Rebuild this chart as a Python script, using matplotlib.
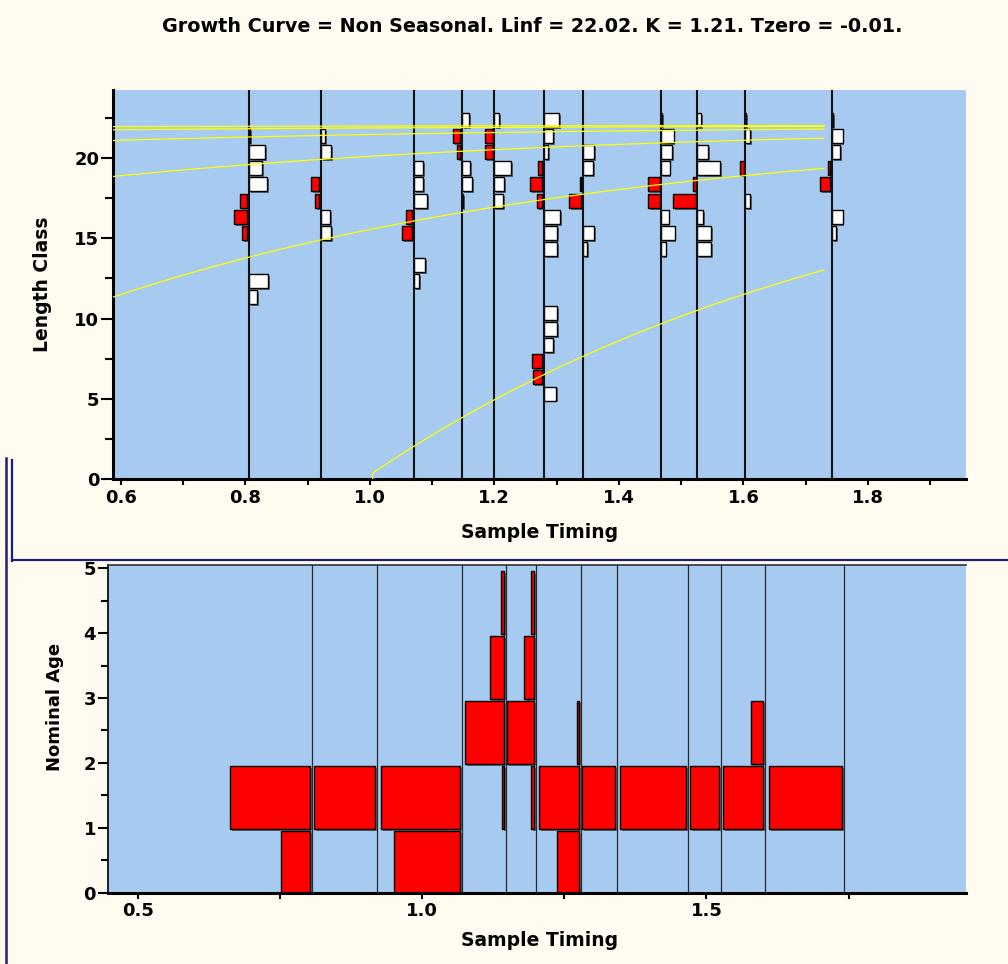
import numpy as np
import matplotlib.pyplot as plt
import matplotlib.patheffects as pe
from matplotlib.lines import Line2D

plt.rcParams.update({"font.family": ["DejaVu Sans"]})
plt.rcParams.update({"font.weight": "bold", "font.size": 13})

# growth parameters (from the title)
LINF = 22.02
K = 1.21
TZERO = -0.01

sample_times = [0.806, 0.921, 1.071, 1.148, 1.200, 1.280, 1.342, 1.468, 1.526, 1.603, 1.742]

length_classes = list(range(5, 23))
# restructured scores, rows = samples, cols = length classes 5..22 (+ white / - red)
scores = [
    [0, 0, 0, 0, 0, 0, 7.7, 19, 0, 0, -5.3, -13.3, -7.3, 18, 13.3, 16, 1.5, 0],
    [0, 0, 0, 0, 0, 0, 0, 0, 0, 0, 10.7, 9.3, -4, -8.3, 0, 10.7, 4.7, 0],
    [0, 0, 0, 0, 0, 0, 0, 4.7, 11.3, 0, -10.3, -6.7, 12.7, 9.3, 8.7, 0, 0, 0],
    [0, 0, 0, 0, 0, 0, 0, 0, 0, 0, 0, 0, 1.3, 9.7, 7.7, -3.3, -7, 7],
    [0, 0, 0, 0, 0, 0, 0, 0, 0, 0, 0, 0, 8.3, 10, 16.7, -8, -7.7, 5],
    [11.7, -9.3, -10.3, 9.3, 12.7, 12.7, 0, 0, 0, 12.7, 13.3, 16, -5.3, -12.7, -4.7, 3.7, 8.7, 14.7],
    [0, 0, 0, 0, 0, 0, 0, 0, 0, 4.7, 11, 0, -12.3, -1, 10.3, 11, 0, 0],
    [0, 0, 0, 0, 0, 0, 0, 0, 0, 4.3, 13.3, 7.3, -11.3, -12, 8.3, 10.7, 12.3, 1],
    [0, 0, 0, 0, 0, 0, 0, 0, 0, 14, 13.7, 6, -22.7, -3, 22.7, 11, 0, 3.7],
    [0, 0, 0, 0, 0, 0, 0, 0, 0, 0, 0, 0, 4.7, 0, -3.3, 0, 4.7, 1],
    [0, 0, 0, 0, 0, 0, 0, 0, 0, 0, 4, 10.7, 0, -10, -2.3, 8, 10.7, 1],
]

nominal_ages = [0, 1, 2, 3, 4]
# age frequencies per sample, cols = ages 0..4
age_freq = [
    [28.3, 79.4, 0, 0, 0],
    [0, 60.7, 0, 0, 0],
    [66.2, 79.4, 0, 0, 0],
    [0, 2, 39.3, 14, 3],
    [0, 2.7, 26.7, 9.7, 2.4],
    [22, 40.7, 2.4, 0, 0],
    [0, 32.3, 0, 0, 0],
    [0, 66, 0, 0, 0],
    [0, 29.3, 0, 0, 0],
    [0, 40, 12, 0, 0],
    [0, 73, 0, 0, 0],
]
cohorts = [0, 1, 2, 3, 4, 5]

TOP_SCALE = 1 / 622.7
BOT_SCALE = 1 / 568.9
BG = "#A6CAF0"
CREAM = "#FFFBF0"
NAVY = "#202070"
W, H = 1008, 964

shadow = [pe.SimplePatchShadow(offset=(1.4, -1.4), shadow_rgbFace="#404040", alpha=0.7), pe.Normal()]


def fbox(l, t, r, b):
    return [l / W, 1 - b / H, (r - l) / W, (b - t) / H]


fig = plt.figure(figsize=(W / 100, H / 100), dpi=100, facecolor=CREAM)

# ---------------- top panel ----------------
ax = fig.add_axes(fbox(112.5, 89.7, 966, 479.3))
ax.set_facecolor(BG)
ax.set_xlim(0.5868, 1.9575)
ax.set_ylim(0, 24.23)

gap = 0.0027
for t, row in zip(sample_times, scores):
    for cls, s in zip(length_classes, row):
        if s == 0:
            continue
        w = abs(s) * TOP_SCALE
        if s > 0:
            b = ax.barh(cls - 0.1, w, left=t, height=0.87, align="edge",
                        color="white", edgecolor="black", lw=1.0, zorder=2)
        else:
            b = ax.barh(cls - 0.1, w, left=t - gap - w, height=0.87, align="edge",
                        color="#FF0000", edgecolor="black", lw=1.0, zorder=2)
        for p in b:
            p.set_path_effects(shadow)
    ax.axvline(t, color="#111111", lw=1.5, zorder=3)

xend = 1.7295
for k in cohorts:
    x0 = 1.0045 if k == 0 else 0.5868
    xs = np.linspace(x0, xend, 120)
    ys = LINF * (1 - np.exp(-K * (xs - 1 + k - TZERO)))
    if k == 0:
        xs = np.r_[x0, xs]
        ys = np.r_[0, ys]
    ax.plot(xs, ys, color="#FFFF00", lw=0.9, zorder=4)

for side in ["top", "right"]:
    ax.spines[side].set_visible(False)
for side in ["left", "bottom"]:
    ax.spines[side].set_linewidth(2.2)
ax.set_xticks([0.6, 0.8, 1.0, 1.2, 1.4, 1.6, 1.8])
ax.set_xticklabels(["0.6", "0.8", "1.0", "1.2", "1.4", "1.6", "1.8"])
ax.set_xticks([0.7, 0.9, 1.1, 1.3, 1.5, 1.7, 1.9], minor=True)
ax.set_yticks([0, 5, 10, 15, 20])
ax.set_yticks([2.5, 7.5, 12.5, 17.5, 22.5], minor=True)
ax.tick_params(axis="x", which="both", direction="out", length=4, width=1.5, pad=3, labelsize=13)
ax.tick_params(axis="y", which="major", direction="out", length=8.6, width=1.5, pad=1, labelsize=13)
ax.tick_params(axis="y", which="minor", direction="out", length=5.8, width=1.5)

fig.text(532 / W, 1 - 27 / H, "Growth Curve = Non Seasonal. Linf = 22.02. K = 1.21. Tzero = -0.01.",
         ha="center", va="center", fontsize=13.8, weight="bold")
fig.text(42 / W, 1 - 284.5 / H, "Length Class", rotation=90, ha="center", va="center", fontsize=13.5)
fig.text(540 / W, 1 - 533 / H, "Sample Timing", ha="center", va="center", fontsize=13.5)

# ---------------- bottom panel ----------------
ax2 = fig.add_axes(fbox(107.5, 565, 966, 892.7))
ax2.set_facecolor(BG)
ax2.set_xlim(0.4471, 1.9562)
ax2.set_ylim(0, 5.05)

gap2 = 0.0035
for t, row in zip(sample_times, age_freq):
    for age, f in zip(nominal_ages, row):
        if f == 0:
            continue
        w = f * BOT_SCALE
        b = ax2.barh(age - 0.02, w, left=t - gap2 - w, height=0.97, align="edge",
                     color="#FF0000", edgecolor="black", lw=1.0, zorder=2)
        for p in b:
            p.set_path_effects(shadow)
    ax2.axvline(t, color="#2a2a2a", lw=0.9, zorder=3)

ax2.spines["right"].set_visible(False)
ax2.spines["top"].set_color("#333333")
ax2.spines["top"].set_linewidth(1.2)
ax2.spines["left"].set_linewidth(1.2)
ax2.spines["bottom"].set_linewidth(2.2)
ax2.set_xticks([0.5, 1.0, 1.5])
ax2.set_xticklabels(["0.5", "1.0", "1.5"])
ax2.set_xticks([0.75, 1.25, 1.75], minor=True)
ax2.set_yticks([0, 1, 2, 3, 4, 5])
ax2.set_yticks([0.5, 1.5, 2.5, 3.5, 4.5], minor=True)
ax2.tick_params(axis="x", which="both", direction="out", length=4, width=1.5, pad=3, labelsize=13)
ax2.tick_params(axis="y", which="major", direction="out", length=7.2, width=1.5, pad=1, labelsize=13)
ax2.tick_params(axis="y", which="minor", direction="out", length=5, width=1.5)

fig.text(55 / W, 1 - 707 / H, "Nominal Age", rotation=90, ha="center", va="center", fontsize=13)
fig.text(540 / W, 1 - 941 / H, "Sample Timing", ha="center", va="center", fontsize=13.5)

# window frames
fig.add_artist(Line2D([12 / W, 1], [1 - 560 / H] * 2, color=NAVY, lw=1.6))
fig.add_artist(Line2D([12.3 / W] * 2, [1 - 460 / H, 1 - 561 / H], color=NAVY, lw=1.6))
fig.add_artist(Line2D([6.3 / W] * 2, [1 - 458 / H, 0], color=NAVY, lw=1.8))

fig.savefig("out.png", dpi=100, facecolor=CREAM)
